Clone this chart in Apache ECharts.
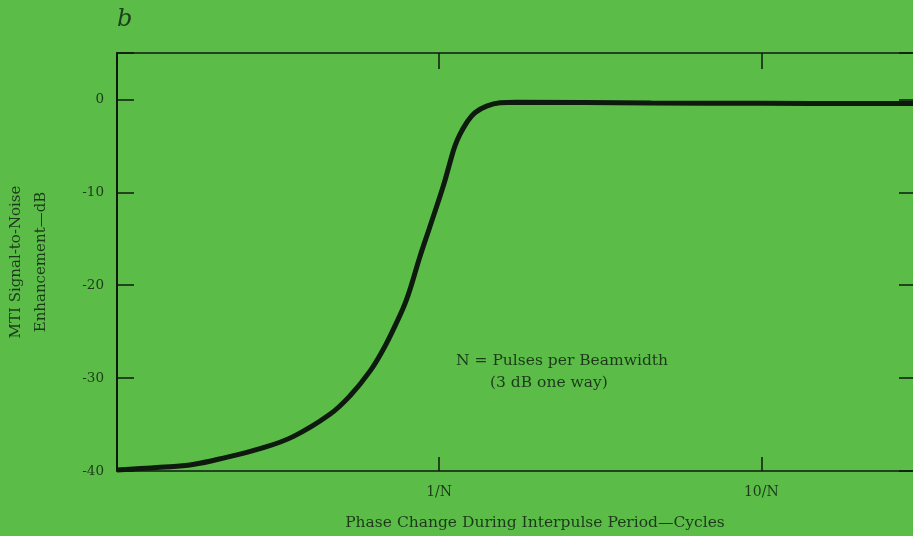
<!DOCTYPE html>
<html>
<head>
<meta charset="utf-8">
<script src="https://cdn.jsdelivr.net/npm/echarts@6/dist/echarts.min.js"></script>
<style>
html,body{margin:0;padding:0;background:#5bbd48;}
#c{width:913px;height:536px;}
</style>
</head>
<body>
<div id="c"></div>
<script>
// Phase change in units of 1/N (log scale)
var phase = [0.1, 0.136, 0.172, 0.22, 0.278, 0.352, 0.458, 0.529, 0.61, 0.671, 0.729, 0.793, 0.872, 0.936, 1.03, 1.08, 1.119, 1.16, 1.217, 1.291, 1.404, 1.545, 1.74, 4.55, 10, 30];
// MTI signal-to-noise enhancement, dB
var enhancement = [-39.9, -39.6, -39.3, -38.5, -37.6, -36.3, -33.9, -31.9, -29.25, -26.9, -24.4, -21.5, -16.9, -13.7, -9.33, -6.81, -5.03, -3.77, -2.51, -1.43, -0.72, -0.36, -0.3, -0.38, -0.42, -0.45];
var yTicks = [0, -10, -20, -30, -40];
var yTickLabels = ['0', '-10', '-20', '-30', '-40'];
var xTicks = [1, 10];
var xTickLabels = ['1/N', '10/N'];

var serif = 'DejaVu Serif';
var txt = '#1c3a1a';
var ink = '#0e1a0e';

function xLabel(v) {
  for (var i = 0; i < xTicks.length; i++) {
    if (Math.abs(v - xTicks[i]) < 1e-6 * xTicks[i]) return xTickLabels[i];
  }
  return '';
}
function yLabel(v) {
  for (var i = 0; i < yTicks.length; i++) {
    if (Math.abs(v - yTicks[i]) < 1e-6) return yTickLabels[i];
  }
  return '';
}

var chart = echarts.init(document.getElementById('c'), null, {renderer: 'canvas'});
chart.setOption({
  backgroundColor: '#5bbd48',
  animation: false,
  grid: {left: 117, right: -2, top: 53, bottom: 65, outerBoundsMode: 'none', containLabel: false},
  xAxis: [{
    type: 'log', logBase: 10, min: 0.1, max: 30, position: 'bottom',
    axisLine: {onZero: false, lineStyle: {color: ink, width: 1.5}},
    axisTick: {inside: true, length: 14, lineStyle: {color: ink, width: 1.5}},
    axisLabel: {formatter: xLabel, color: txt, fontFamily: serif, fontSize: 14, margin: 14},
    minorTick: {show: false},
    splitLine: {show: false},
    name: 'Phase Change During Interpulse Period\u2014Cycles',
    nameLocation: 'middle', nameGap: 44,
    nameTextStyle: {color: txt, fontFamily: serif, fontSize: 15.5, padding: [0, 0, 0, 38]}
  }, {
    type: 'log', logBase: 10, min: 0.1, max: 30, position: 'top',
    axisLine: {onZero: false, lineStyle: {color: ink, width: 1.5}},
    axisTick: {inside: true, length: 16, lineStyle: {color: ink, width: 1.5}},
    axisLabel: {show: false},
    splitLine: {show: false}
  }],
  yAxis: [{
    type: 'value', min: -40, max: 5, interval: 10, position: 'left',
    axisLine: {show: true, onZero: false, lineStyle: {color: ink, width: 2}},
    axisTick: {show: true, inside: true, length: 17, lineStyle: {color: ink, width: 1.5}},
    axisLabel: {formatter: yLabel, color: txt, fontFamily: serif, fontSize: 13.5, margin: 13},
    splitLine: {show: false},
    name: 'MTI Signal-to-Noise\nEnhancement\u2014dB',
    nameLocation: 'middle', nameGap: 63, nameRotate: 90,
    nameTextStyle: {color: txt, fontFamily: serif, fontSize: 15, lineHeight: 25, align: 'center'}
  }, {
    type: 'value', min: -40, max: 5, interval: 10, position: 'right',
    axisLine: {show: true, onZero: false, lineStyle: {color: ink, width: 1.5}},
    axisTick: {show: true, inside: true, length: 16, lineStyle: {color: ink, width: 1.5}},
    axisLabel: {show: false},
    splitLine: {show: false}
  }],
  series: [{
    type: 'line',
    xAxisIndex: 0, yAxisIndex: 0,
    data: phase.map(function (p, i) { return [p, enhancement[i]]; }),
    smooth: 0.4,
    showSymbol: false,
    lineStyle: {color: ink, width: 5}
  }],
  graphic: [{
    type: 'text', left: 117, top: 8,
    style: {text: 'b', font: 'italic 24px "DejaVu Serif"', fill: '#1e401c'}
  }, {
    type: 'text', left: 456, top: 353,
    style: {text: 'N = Pulses per Beamwidth', font: '15.5px "DejaVu Serif"', fill: txt}
  }, {
    type: 'text', left: 490, top: 375,
    style: {text: '(3 dB one way)', font: '15.5px "DejaVu Serif"', fill: txt}
  }]
});
</script>
</body>
</html>
